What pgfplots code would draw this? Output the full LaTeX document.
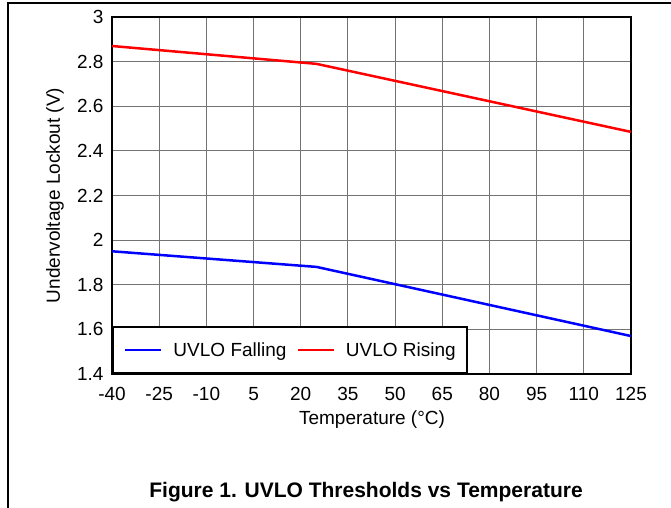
\documentclass[border=0pt]{standalone}
\usepackage{fontspec}
\setmainfont{Liberation Sans}
\usepackage{pgfplots}
\pgfplotsset{compat=1.18}

\begin{document}
\begin{tikzpicture}[x=1bp,y=1bp]
    % page frame (left and top rules only)
    \path[use as bounding box] (-112,-134) rectangle (559,374);
    \draw[line width=1.3bp] (-104,-134) -- (-104,371) -- (559,371);

    \begin{axis}[
        at={(0,0)}, anchor=south west,
        scale only axis,
        width=519bp, height=357bp,
        xmin=-40, xmax=125,
        ymin=1.4, ymax=3,
        xtick={-40,-25,-10,5,20,35,50,65,80,95,110,125},
        ytick={1.4,1.6,1.8,2,2.2,2.4,2.6,2.8,3},
        yticklabels={1.4,1.6,1.8,2,2.2,2.4,2.6,2.8,3},
        /pgf/number format/assume math mode=true,
        major tick length=0pt,
        grid=major,
        grid style={black!55, line width=0.9bp},
        axis line style={line width=2.6bp},
        tick label style={font=\fontsize{19bp}{22bp}\selectfont},
        xticklabel style={yshift=-10bp},
        yticklabel style={xshift=-5bp},
        label style={font=\fontsize{19bp}{22bp}\selectfont},
        xlabel={Temperature (°C)},
        ylabel={Undervoltage Lockout (V)},
        xlabel style={at={(axis description cs:0.501,-0.128)}, anchor=center},
        ylabel style={at={(axis description cs:-0.110,0.5)}, anchor=center},
        legend columns=2,
        legend style={
            at={(0,0)}, anchor=south west,
            draw=black, line width=2bp,
            font=\fontsize{19bp}{22bp}\selectfont,
            nodes={inner sep=0pt},
            inner xsep=11bp, inner ysep=15.5bp,
            /tikz/every odd column/.append style={column sep=11bp},
            /tikz/every even column/.append style={column sep=10bp},
        },
        legend image code/.code={\draw[#1, line width=2.5bp] (0bp,0bp) -- (36bp,0bp);},
    ]

        % UVLO Falling
        \addplot[blue, line width=2.5bp] coordinates {
            (-40,1.95)
            (25,1.88)
            (125,1.57)
        };
        \addlegendentry{UVLO Falling}

        % UVLO Rising
        \addplot[red, line width=2.5bp] coordinates {
            (-40,2.87)
            (25,2.79)
            (125,2.485)
        };
        \addlegendentry{UVLO Rising}

    \end{axis}

    \node[font=\bfseries\fontsize{21bp}{25bp}\selectfont] at (366-112,-118)
        {Figure 1. UVLO Thresholds vs Temperature};
\end{tikzpicture}
\end{document}
